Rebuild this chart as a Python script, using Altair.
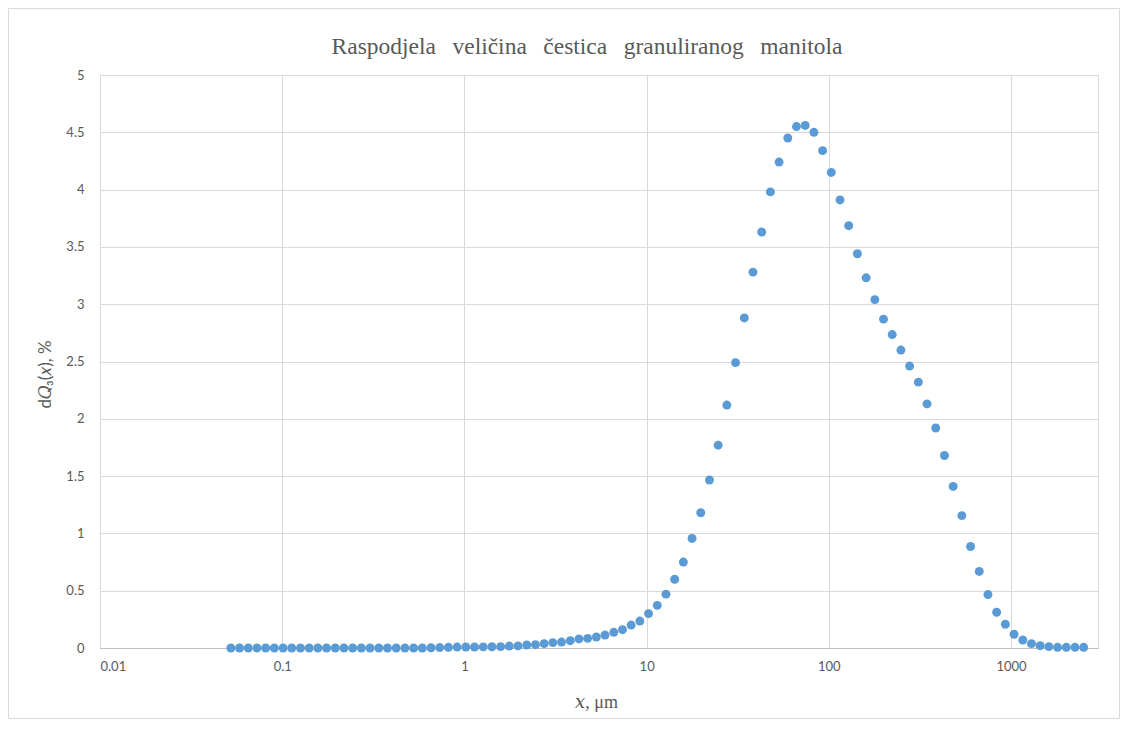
import altair as alt
import pandas as pd

# particle size classes, µm
size_um = [
    0.05224, 0.05832, 0.06510, 0.07267, 0.08111, 0.09055, 0.1011, 0.1128, 0.1259, 0.1406,
    0.1569, 0.1751, 0.1955, 0.2182, 0.2436, 0.2719, 0.3035, 0.3388, 0.3782, 0.4222,
    0.4713, 0.5260, 0.5871, 0.6555, 0.7316, 0.8166, 0.9117, 1.018, 1.136, 1.268,
    1.415, 1.580, 1.763, 1.968, 2.197, 2.453, 2.738, 3.056, 3.411, 3.808,
    4.251, 4.745, 5.296, 5.911, 6.599, 7.367, 8.222, 9.179, 10.244, 11.435,
    12.764, 14.248, 15.904, 17.753, 19.817, 22.121, 24.692, 27.563, 30.767, 34.344,
    38.337, 42.794, 47.769, 53.322, 59.521, 66.441, 74.165, 82.787, 92.411, 103.14,
    115.14, 128.53, 143.47, 160.15, 178.77, 199.53, 222.73, 248.62, 277.53, 309.79,
    345.80, 386.01, 430.88, 480.97, 536.89, 599.31, 668.98, 746.75, 833.56, 930.47,
    1038.5, 1159.3, 1294.1, 1444.5, 1612.5, 1799.9, 2009.2, 2242.7, 2503.4,
]

# dQ3(x), %
dq3 = [
    0, 0, 0, 0, 0, 0, 0, 0, 0, 0,
    0, 0, 0, 0, 0, 0, 0, 0, 0, 0,
    0, 0, 0, 0.002, 0.004, 0.006, 0.008, 0.009, 0.009, 0.010,
    0.011, 0.012, 0.017, 0.018, 0.026, 0.029, 0.038, 0.047, 0.052, 0.064,
    0.079, 0.084, 0.096, 0.113, 0.137, 0.160, 0.200, 0.235, 0.300, 0.372,
    0.470, 0.600, 0.750, 0.956, 1.180, 1.466, 1.770, 2.120, 2.490, 2.880,
    3.280, 3.630, 3.980, 4.240, 4.450, 4.550, 4.560, 4.500, 4.340, 4.150,
    3.910, 3.685, 3.440, 3.230, 3.040, 2.870, 2.735, 2.600, 2.460, 2.320,
    2.130, 1.920, 1.680, 1.410, 1.155, 0.886, 0.668, 0.466, 0.312, 0.207,
    0.120, 0.070, 0.038, 0.020, 0.012, 0.006, 0.006, 0.006, 0.006,
]

x_ticks = [0.01, 0.1, 1, 10, 100, 1000]
y_ticks = [0, 0.5, 1, 1.5, 2, 2.5, 3, 3.5, 4, 4.5, 5]
title_words = ["Raspodjela", "veličina", "čestica", "granuliranog", "manitola"]

df = pd.DataFrame({"x": size_um, "y": dq3})

W, H = 998, 573
GRAY = "#595959"
GRID = "#d9d9d9"
SERIF = "Liberation Serif, DejaVu Serif, serif"

points = alt.Chart(df).mark_circle(size=80, color="#5b9bd5", opacity=1).encode(
    x=alt.X(
        "x:Q",
        scale=alt.Scale(type="log", domain=[0.01, 3000], nice=False),
        axis=alt.Axis(
            values=x_ticks,
            format="~g",
            title="𝑥, μm",
            titleFont=SERIF,
            titleFontSize=18,
            titleFontWeight="normal",
            titleColor=GRAY,
            titleX=496,
            titleY=54,
            titleBaseline="middle",
            labelFont="Lato",
            labelFontSize=13,
            labelColor=GRAY,
            labelPadding=12,
            ticks=False,
            grid=True,
            gridColor=GRID,
            domainColor="#bfbfbf",
        ),
    ),
    y=alt.Y(
        "y:Q",
        scale=alt.Scale(domain=[0, 5], nice=False),
        axis=alt.Axis(
            values=y_ticks,
            format="~g",
            title="d𝑄₃(𝑥), %",
            titleFont="Lato, DejaVu Sans, sans-serif",
            titleFontSize=17,
            titleFontWeight="normal",
            titleColor=GRAY,
            titleAngle=270,
            titleX=-55,
            titleY=299,
            titleBaseline="middle",
            titleAlign="center",
            labelFont="Lato",
            labelFontSize=13,
            labelColor=GRAY,
            labelPadding=16,
            ticks=False,
            grid=True,
            gridColor=GRID,
            domain=False,
        ),
    ),
)

title = alt.Chart(
    pd.DataFrame({"t": ["\u00a0\u00a0\u2009".join(title_words)]})
).mark_text(
    font=SERIF, fontSize=23.5, color=GRAY, align="center", baseline="middle", clip=False
).encode(text="t:N", x=alt.value(487), y=alt.value(-28))

border = alt.Chart(pd.DataFrame({"a": [0]})).mark_rect(
    fill=None, stroke=GRID, strokeWidth=1, clip=False
).encode(
    x=alt.value(-91.5), x2=alt.value(1019.5), y=alt.value(-66.5), y2=alt.value(643.5)
)

chart = (
    alt.layer(border, title, points)
    .properties(
        width=W,
        height=H,
        padding={"left": 92, "top": 67, "right": 22, "bottom": 72},
        autosize=alt.AutoSizeParams(type="none"),
    )
    .configure_view(stroke=None)
    .configure(background="white")
)

chart.save("out.html", embed_options={"renderer": "svg", "actions": False})
